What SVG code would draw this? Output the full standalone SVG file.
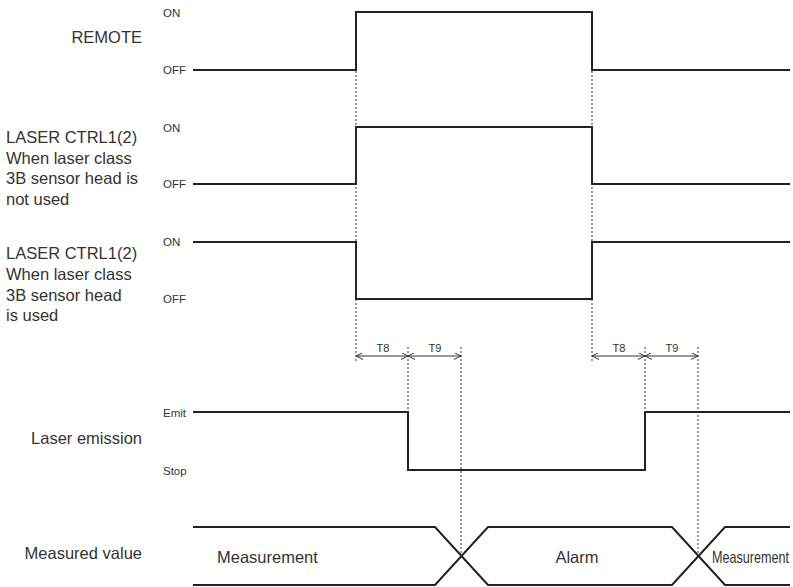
<svg xmlns="http://www.w3.org/2000/svg" width="793" height="587" viewBox="0 0 793 587">
<style>
.sig{fill:none;stroke:#222;stroke-width:2}
.dash{fill:none;stroke:#333;stroke-width:1;stroke-dasharray:2,2}
.dim{fill:none;stroke:#333;stroke-width:1}
.lbl{font-family:"Liberation Sans",Arial,sans-serif;font-size:16.5px;fill:#333}
.lvl{font-family:"Liberation Sans",Arial,sans-serif;font-size:11.5px;fill:#333}
.t{font-family:"Liberation Sans",Arial,sans-serif;font-size:11px;fill:#333;text-anchor:middle}
</style>
<defs>
<marker id="ah" viewBox="0 0 10 10" refX="10" refY="5" markerWidth="7" markerHeight="7" orient="auto-start-reverse" markerUnits="userSpaceOnUse">
<path d="M0,0 L10,5 L0,10" fill="none" stroke="#333" stroke-width="1.4"/>
</marker>
</defs>
<rect width="793" height="587" fill="#fff"/>
<g id="remote">
<text class="lbl" x="142" y="43" text-anchor="end">REMOTE</text>
<text class="lvl" x="163" y="17">ON</text>
<text class="lvl" x="163" y="74">OFF</text>
<polyline class="sig" points="193,70 356,70 356,12 592,12 592,70 790,70"/>
</g>
<g id="laser-ctrl-not-used">
<text class="lbl" x="6" y="143">LASER CTRL1(2)</text>
<text class="lbl" x="6" y="163.5">When laser class</text>
<text class="lbl" x="6" y="184">3B sensor head is</text>
<text class="lbl" x="6" y="204.5">not used</text>
<text class="lvl" x="163" y="132">ON</text>
<text class="lvl" x="163" y="188">OFF</text>
<polyline class="sig" points="193,184 356,184 356,127 592,127 592,184 790,184"/>
</g>
<g id="laser-ctrl-used">
<text class="lbl" x="6" y="259">LASER CTRL1(2)</text>
<text class="lbl" x="6" y="280">When laser class</text>
<text class="lbl" x="6" y="300.5">3B sensor head</text>
<text class="lbl" x="6" y="321">is used</text>
<text class="lvl" x="163" y="246">ON</text>
<text class="lvl" x="163" y="303">OFF</text>
<polyline class="sig" points="193,242 356,242 356,299 592,299 592,242 790,242"/>
</g>
<g id="laser-emission">
<text class="lbl" x="142" y="444" text-anchor="end">Laser emission</text>
<text class="lvl" x="163" y="417">Emit</text>
<text class="lvl" x="163" y="475">Stop</text>
<polyline class="sig" points="193,412 408,412 408,470 645,470 645,412 790,412"/>
</g>
<g id="measured-value">
<text class="lbl" x="142" y="559" text-anchor="end">Measured value</text>
<polyline class="sig" points="193,527 435,527 488,585 672,585 725,527 790,527"/>
<polyline class="sig" points="193,585 435,585 488,527 672,527 725,585 790,585"/>
<text class="lbl" x="217" y="563">Measurement</text>
<text class="lbl" x="577" y="563" text-anchor="middle">Alarm</text>
<text class="lbl" x="712" y="563" textLength="77" lengthAdjust="spacingAndGlyphs">Measurement</text>
</g>
<g id="connectors">
<line class="dash" x1="356" y1="71" x2="356" y2="361"/>
<line class="dash" x1="592" y1="71" x2="592" y2="361"/>
<line class="dash" x1="408" y1="347" x2="408" y2="412"/>
<line class="dash" x1="461" y1="347" x2="461" y2="556"/>
<line class="dash" x1="645" y1="347" x2="645" y2="412"/>
<line class="dash" x1="698" y1="347" x2="698" y2="556"/>
<line class="dim" x1="356" y1="356" x2="408" y2="356" marker-start="url(#ah)" marker-end="url(#ah)"/>
<line class="dim" x1="408" y1="356" x2="461" y2="356" marker-start="url(#ah)" marker-end="url(#ah)"/>
<line class="dim" x1="592" y1="356" x2="645" y2="356" marker-start="url(#ah)" marker-end="url(#ah)"/>
<line class="dim" x1="645" y1="356" x2="698" y2="356" marker-start="url(#ah)" marker-end="url(#ah)"/>
<text class="t" x="383" y="352">T8</text>
<text class="t" x="435" y="352">T9</text>
<text class="t" x="619" y="352">T8</text>
<text class="t" x="672" y="352">T9</text>
</g>
</svg>
